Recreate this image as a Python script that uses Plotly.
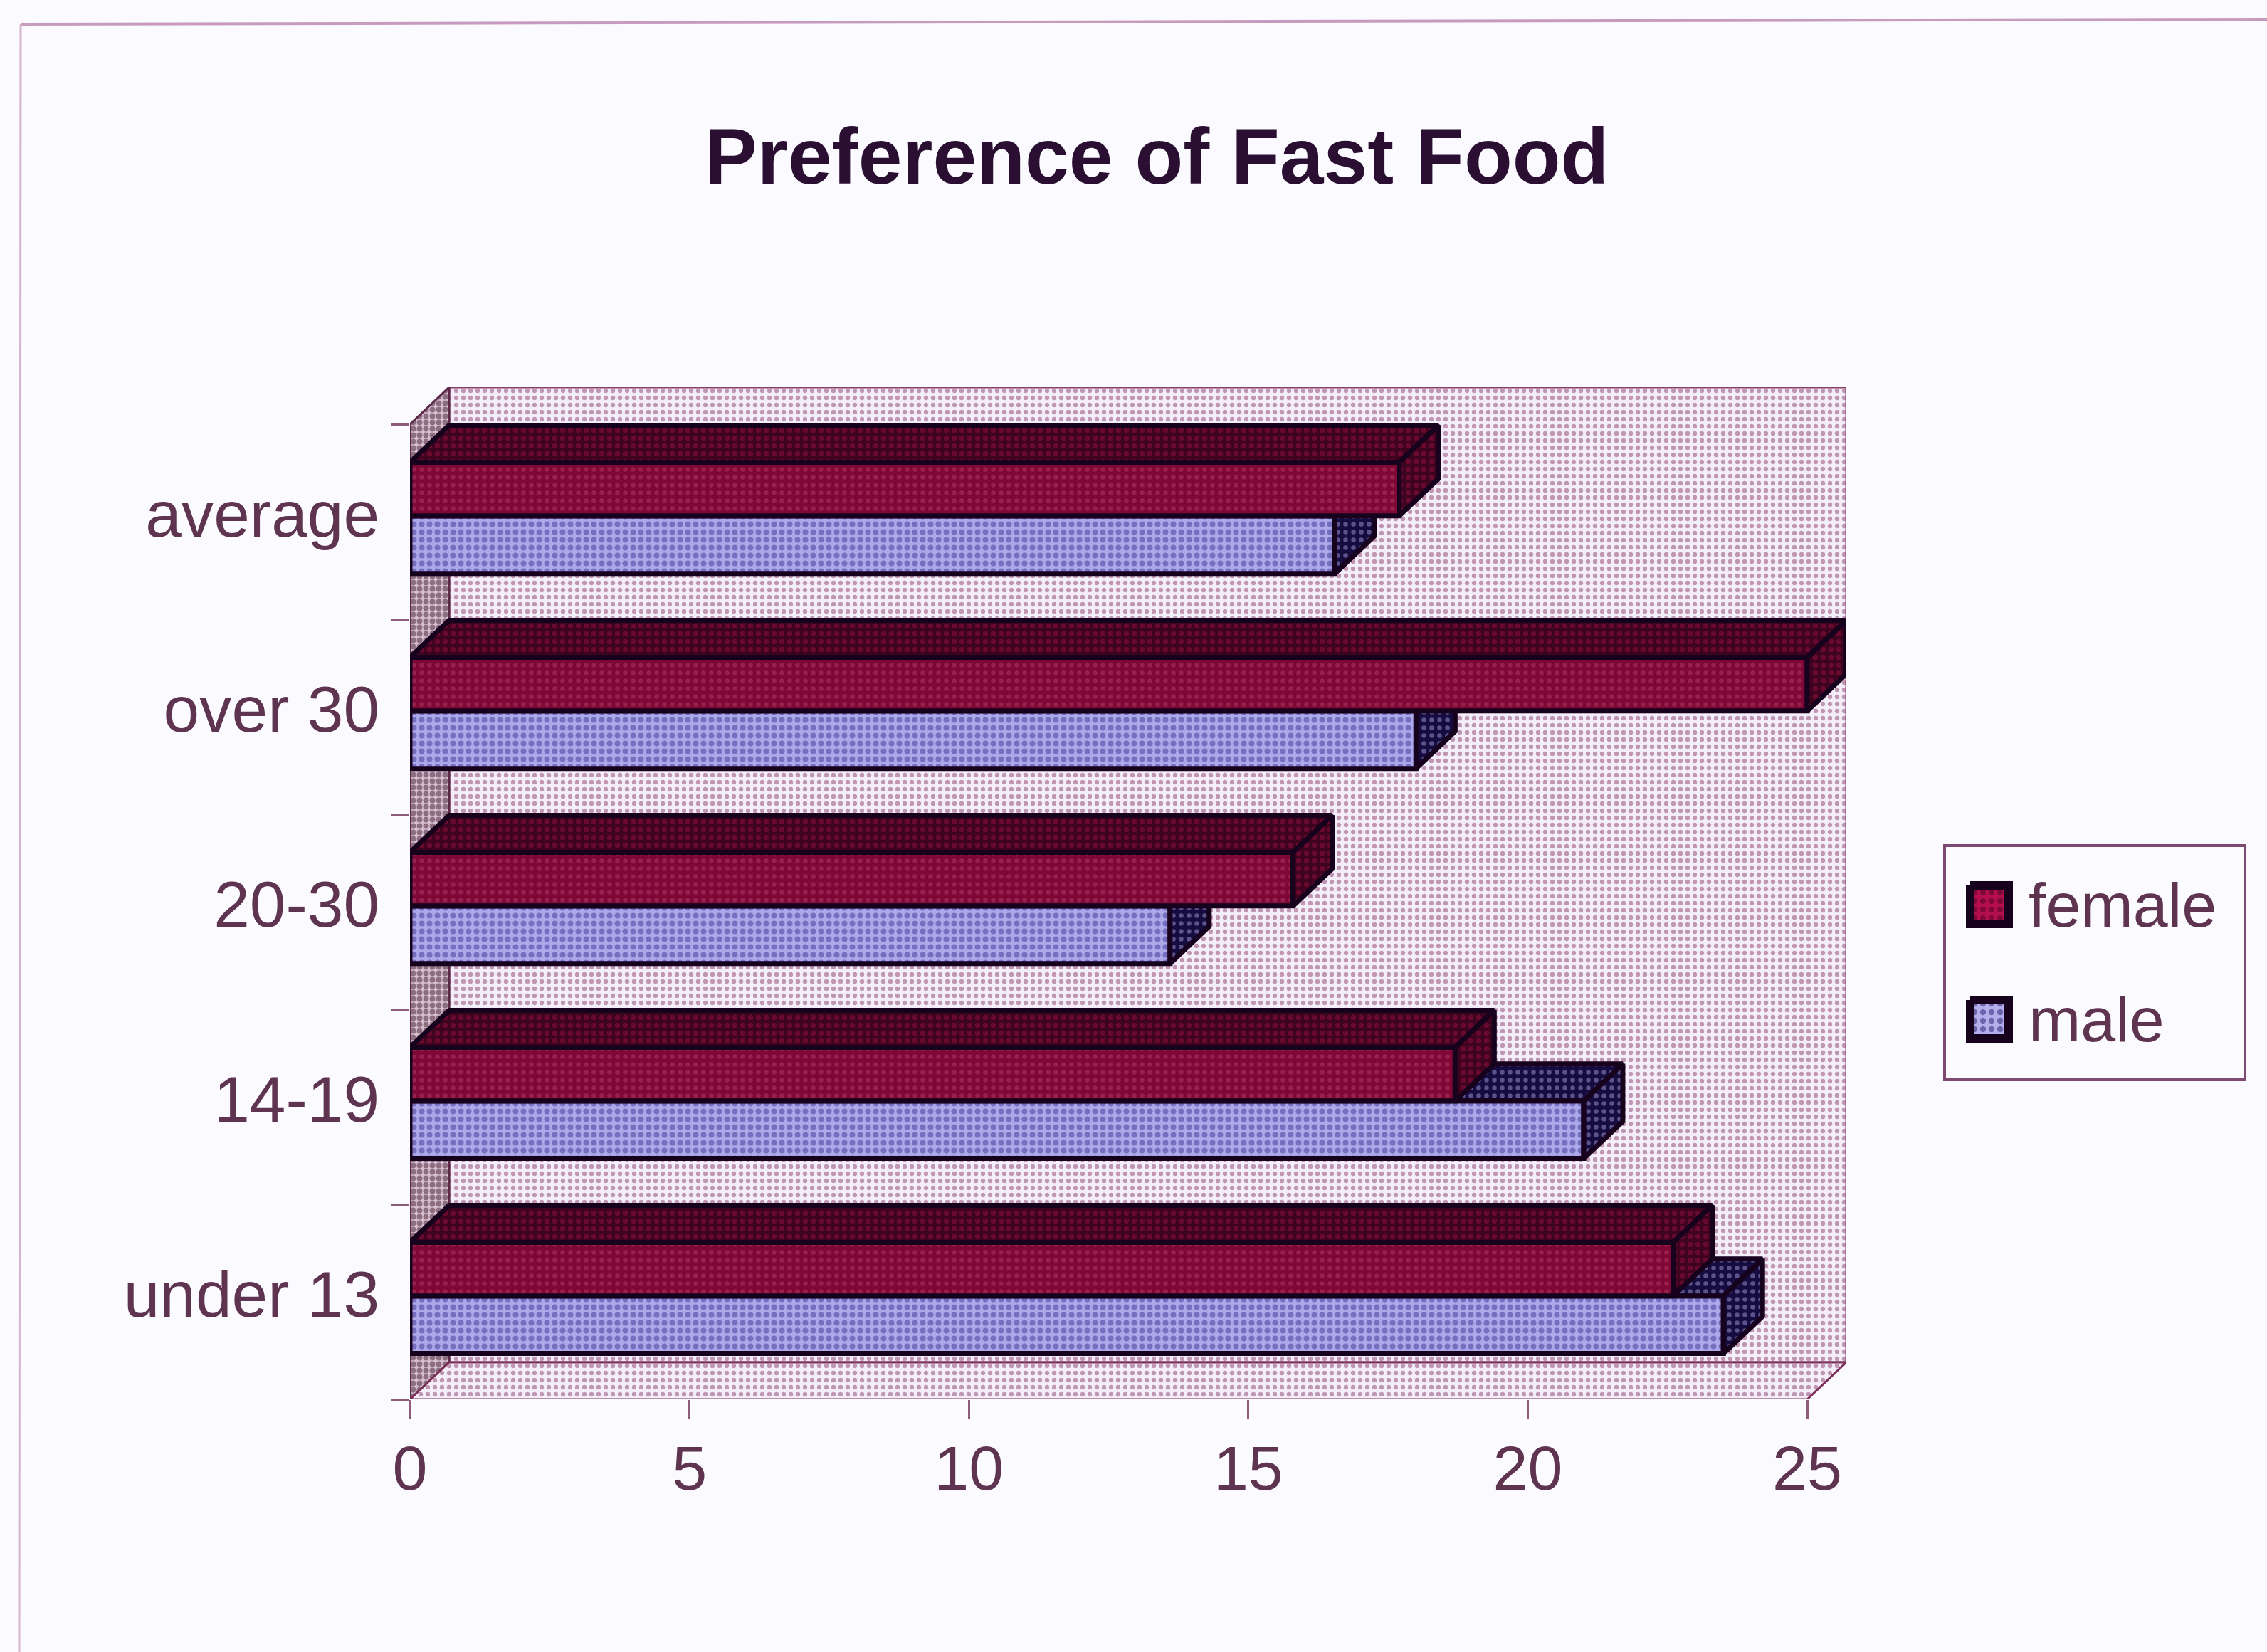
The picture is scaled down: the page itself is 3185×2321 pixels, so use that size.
import plotly.graph_objects as go

# Chart data
categories = ["under 13", "14-19", "20-30", "over 30", "average"]
female = [22.6, 18.7, 15.8, 25.0, 17.7]
male = [23.5, 21.0, 13.6, 18.0, 16.55]
x_ticks = [0, 5, 10, 15, 20, 25]

W, H = 3185, 2321
FONT = "Liberation Sans"
TEXT = "#5E3450"
AXIS = "#8E5B78"
EDGE = "#16021C"
DX, DY = 0.70, 0.19           # oblique depth of the pseudo-3D box, in data units
F_H, M_H = 0.275, 0.295
F_OFF, M_OFF = 0.03, -0.265
X_MAX, Y_MIN, Y_MAX = 25 + DX, -0.5, 4.5 + DY
positions = list(range(len(categories)))


def fx(px):
    return px / W


def fy(py):
    return 1 - py / H


def pat(bg, fg, solidity=0.32, size=11):
    return dict(shape=".", bgcolor=bg, fgcolor=fg, size=size, solidity=solidity)


def polys(shapes):
    xs, ys = [], []
    for shape in shapes:
        xs += [p[0] for p in shape] + [shape[0][0], None]
        ys += [p[1] for p in shape] + [shape[0][1], None]
    return xs, ys


def face(shapes, pattern, axes, line=EDGE, width=7):
    xs, ys = polys(shapes)
    return go.Scatter(
        x=xs, y=ys, mode="lines", fill="toself", fillcolor=pattern["bgcolor"],
        fillpattern=pattern, line=dict(color=line, width=width),
        xaxis=axes[0], yaxis=axes[1], cliponaxis=False, hoverinfo="skip",
        showlegend=False,
    )


def top_faces(values, offset, height):
    return [
        [(0, p + offset + height), (v, p + offset + height),
         (v + DX, p + offset + height + DY), (DX, p + offset + height + DY)]
        for p, v in zip(positions, values)
    ]


def right_faces(values, offset, height):
    return [
        [(v, p + offset), (v, p + offset + height),
         (v + DX, p + offset + height + DY), (v + DX, p + offset + DY)]
        for p, v in zip(positions, values)
    ]


WALL = pat("#F4EEFB", "#8C3F6C", 0.32, 10)
SIDE = pat("#D6C0D0", "#431A30", 0.6, 9)
F_FRONT = pat("#7E0735", "#B03A66", 0.28)
F_DEEP = pat("#3E031E", "#96103F", 0.36)
M_FRONT = pat("#ACA8EA", "#3F3596", 0.42)
M_DEEP = pat("#170C40", "#9E99D8", 0.28)

fig = go.Figure()

# Walls and floor of the box, on the base axes
base = ("x", "y")
fig.add_trace(face([[(DX, Y_MIN + DY), (X_MAX, Y_MIN + DY), (X_MAX, Y_MAX), (DX, Y_MAX)]],
                   WALL, base, line="#8A3F68", width=3))
fig.add_trace(face([[(0, Y_MIN), (DX, Y_MIN + DY), (DX, Y_MAX), (0, Y_MAX - DY)]],
                   SIDE, base, line="#5A2A48", width=3))
fig.add_trace(face([[(0, Y_MIN), (25, Y_MIN), (X_MAX, Y_MIN + DY), (DX, Y_MIN + DY)]],
                   WALL, base, line="#7A3058", width=3))

# Male bars with their depth faces, one layer above the walls
fig.add_trace(go.Bar(y=positions, x=male, orientation="h", width=M_H, offset=M_OFF,
                     name="male", marker=dict(pattern=M_FRONT, color=M_FRONT["bgcolor"],
                                              line=dict(color=EDGE, width=7)),
                     xaxis="x2", yaxis="y2", showlegend=False))
fig.add_trace(face(top_faces(male, M_OFF, M_H), M_DEEP, ("x2", "y2")))
fig.add_trace(face(right_faces(male, M_OFF, M_H), M_DEEP, ("x2", "y2")))

# Female bars sit in front of the male depth faces
fig.add_trace(go.Bar(y=positions, x=female, orientation="h", width=F_H, offset=F_OFF,
                     name="female", marker=dict(pattern=F_FRONT, color=F_FRONT["bgcolor"],
                                                line=dict(color=EDGE, width=7)),
                     xaxis="x3", yaxis="y3", showlegend=False))
fig.add_trace(face(top_faces(female, F_OFF, F_H), F_DEEP, ("x3", "y3")))
fig.add_trace(face(right_faces(female, F_OFF, F_H), F_DEEP, ("x3", "y3")))

# Legend swatches live on their own small axes spanning the legend box
LEG_L, LEG_R, LEG_T, LEG_B = 2732, 3154, 1188, 1517


def swatch(cy_px, pattern):
    x0, x1 = 2768, 2822
    half = 27
    return face([[(x0, cy_px - half), (x1, cy_px - half), (x1, cy_px + half), (x0, cy_px + half)]],
                pattern, ("x4", "y4"), width=12)


fig.add_trace(swatch(1271, pat("#B40F4C", "#4A0525", 0.38, 12)))
fig.add_trace(swatch(1432, pat("#B3AEEC", "#2A1A70", 0.38, 12)))

hidden = dict(visible=False, fixedrange=True, automargin=False)
plot_dom_x = [fx(576), fx(2594)]
plot_dom_y = [fy(1966), fy(544)]

fig.update_layout(
    width=W, height=H, autosize=False,
    margin=dict(l=0, r=0, t=0, b=0, pad=0, autoexpand=False),
    paper_bgcolor="#FBFBFF", plot_bgcolor="rgba(0,0,0,0)",
    barmode="overlay", showlegend=False,
    font=dict(family=FONT, color=TEXT, size=88),
    title=dict(text="<b>Preference of Fast Food</b>", x=fx(1625), y=fy(219),
               xanchor="center", yanchor="middle",
               font=dict(family=FONT, size=111, color="#2A0F33")),
    xaxis=dict(domain=plot_dom_x, range=[0, X_MAX], tickmode="array", tickvals=x_ticks,
               ticks="outside", ticklen=26, tickwidth=3, tickcolor=AXIS,
               showgrid=False, zeroline=False, showline=False, automargin=False,
               tickfont=dict(family=FONT, size=88, color=TEXT), ticklabelstandoff=-6,
               anchor="y"),
    yaxis=dict(domain=plot_dom_y, range=[Y_MIN, Y_MAX], tickmode="array", tickvals=positions,
               ticktext=categories, ticks="", showgrid=False, zeroline=False, showline=False,
               automargin=False,
               tickfont=dict(family=FONT, size=91, color=TEXT), ticklabelstandoff=42,
               ticklabelshift=-11,
               minor=dict(tickmode="array", tickvals=[p - 0.5 for p in positions] + [4.5],
                          ticks="outside", ticklen=26, tickwidth=3, tickcolor=AXIS,
                          showgrid=False),
               anchor="x"),
    xaxis2=dict(domain=plot_dom_x, range=[0, X_MAX], overlaying="x", anchor="y2", **hidden),
    yaxis2=dict(domain=plot_dom_y, range=[Y_MIN, Y_MAX], overlaying="y", anchor="x2", **hidden),
    xaxis3=dict(domain=plot_dom_x, range=[0, X_MAX], overlaying="x", anchor="y3", **hidden),
    yaxis3=dict(domain=plot_dom_y, range=[Y_MIN, Y_MAX], overlaying="y", anchor="x3", **hidden),
    xaxis4=dict(domain=[fx(LEG_L), fx(LEG_R)], range=[LEG_L, LEG_R], anchor="y4", **hidden),
    yaxis4=dict(domain=[fy(LEG_B), fy(LEG_T)], range=[LEG_B, LEG_T], anchor="x4", **hidden),
    shapes=[
        # Outer chart frame
        dict(type="line", xref="paper", yref="paper", x0=fx(29), y0=fy(34), x1=1, y1=fy(27),
             line=dict(color="#C79BBE", width=4), layer="below"),
        dict(type="line", xref="paper", yref="paper", x0=fx(29), y0=fy(34), x1=fx(27), y1=0,
             line=dict(color="#D8B4CC", width=3), layer="below"),
        # Legend box
        dict(type="rect", xref="paper", yref="paper", x0=fx(LEG_L), x1=fx(LEG_R),
             y0=fy(LEG_B), y1=fy(LEG_T), line=dict(color="#7E4A72", width=4),
             fillcolor="rgba(0,0,0,0)", layer="below"),
    ],
    annotations=[
        dict(text=t, xref="paper", yref="paper", x=fx(2848), y=fy(cy), xanchor="left",
             yanchor="middle", showarrow=False,
             font=dict(family=FONT, size=88, color=TEXT))
        for t, cy in [("female", 1271), ("male", 1432)]
    ],
)

fig.write_html("out.html")
